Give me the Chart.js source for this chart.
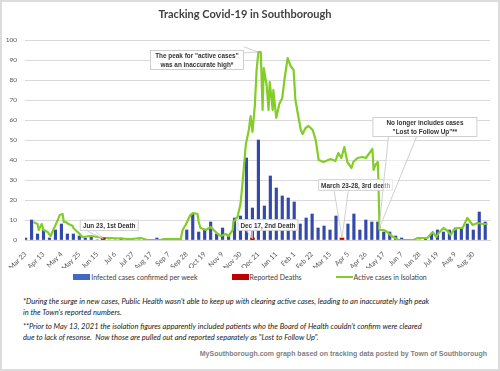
<!DOCTYPE html>
<html>
<head>
<meta charset="utf-8">
<title>Tracking Covid-19 in Southborough</title>
<script src="https://cdn.jsdelivr.net/npm/chart.js@4.4.1/dist/chart.umd.min.js"></script>
<style>
    html, body { margin: 0; padding: 0; background: #fff; }
    #page { position: relative; width: 500px; height: 371px; overflow: hidden; font-family: Lato, "Liberation Sans", sans-serif; }
    #frame { position: absolute; left: 0; top: 0; width: 500px; height: 371px; box-sizing: border-box; border: 2px solid #dcdcdc; pointer-events: none; }
    #chart-box { position: absolute; left: 0; top: 0; width: 500px; height: 270px; }
    #legend { position: absolute; left: 0; top: 272px; width: 500px; height: 10px; display: flex; justify-content: center; gap: 34px; font-size: 7px; color: #404040; }
    .lg-item { display: flex; align-items: center; white-space: nowrap; }
    .lg-swatch { width: 17px; height: 6px; margin-right: 1px; }
    .lg-line { width: 17px; height: 2px; margin-right: 1px; }
    .note { position: absolute; left: 23px; font-style: italic; font-size: 7.5px; line-height: 10.5px; color: #1a1a1a; white-space: nowrap; }
    #source { position: absolute; right: 13px; top: 350px; font-family: "Liberation Sans", Arial, sans-serif; font-weight: bold; font-size: 7px; color: #7f7f7f; white-space: nowrap; }
</style>
</head>
<body>
<div id="page">
    <div id="chart-box"><canvas id="covidChart"></canvas></div>
    <div id="legend"></div>
    <div class="note" style="top: 297px;">*During the surge in new cases, Public Health wasn't able to keep up with clearing active cases, leading to an inaccurately high peak<br>in the Town's reported numbers.</div>
    <div class="note" style="top: 322px;">**Prior to May 13, 2021 the isolation figures apparently included patients who the Board of Health couldn't confirm were cleared<br>due to lack of resonse.&nbsp; Now those are pulled out and reported separately as "Lost to Follow Up".</div>
    <div id="source">MySouthborough.com graph based on tracking data posted by Town of Southborough</div>
    <div id="frame"></div>
</div>

<script>
// x axis: weeks since Mar 23, 2020 (week 0), labelled every 3 weeks
const tickLabels = ['Mar 23', 'Apr 13', 'May 4', 'May 25', 'Jun 15', 'Jul 6', 'Jul 27', 'Aug 17', 'Sep 7', 'Sep 28',
    'Oct 19', 'Nov 9', 'Nov 30', 'Dec 21', 'Jan 11', 'Feb 1', 'Feb 22', 'Mar 15', 'Apr 5', 'Apr 26',
    'May 17', 'Jun 7', 'Jun 28', 'Jul 19', 'Aug 9', 'Aug 30'];

// new confirmed cases, one value per week (week 0 .. 77)
const weeklyCases = [
    1, 10, 3, 5, 1, 5, 8, 3, 3, 2,
    1, 2, 0, 0, 0, 0, 1, 0, 0, 0,
    0, 0, 1, 0, 0, 0, 0, 5, 13, 4,
    5, 9, 3, 6, 2, 11, 12, 41, 16, 50,
    17, 32, 26, 22, 21, 19, 8, 11, 13, 6,
    7, 5, 12, 0, 8, 13, 5, 10, 9, 9,
    4, 4, 2, 1, 0, 0, 0, 1, 3, 5,
    4, 5, 6, 6, 8, 5, 14, 9
];

// reported deaths
const deathWeeks = [13, 38, 53];
const deathCounts = [1, 1, 1];

// active cases in isolation (reported more often than weekly)
const activeWeek = [
    1.3, 2.0, 2.2, 2.7, 3.0, 3.7, 4.2, 4.7, 5.4, 5.7,
    6.2, 6.4, 6.7, 7.2, 7.9, 8.0, 8.9, 9.5, 10.9, 12.1,
    13.1, 14.2, 17.6, 19.3, 20.4, 22.6, 23.1, 26.0, 26.3, 26.8,
    27.6, 28.1, 28.8, 29.0, 29.3, 30.2, 31.0, 32.2, 32.7, 33.5,
    34.0, 34.7, 34.8, 35.5, 36.0, 36.3, 36.9, 37.4, 37.7, 38.0,
    38.4, 38.7, 39.0, 39.4, 39.7, 39.9, 40.4, 40.7, 40.9, 41.4,
    41.5, 42.0, 42.5, 43.0, 43.4, 43.9, 44.4, 44.9, 45.2, 46.1,
    46.4, 46.9, 47.4, 48.1, 48.6, 49.1, 49.9, 51.1, 51.9, 52.4,
    52.9, 53.4, 53.9, 54.6, 54.9, 55.6, 56.4, 57.0, 57.5, 58.1,
    58.3, 58.6, 59.0, 59.1, 59.3, 60.0, 60.6, 61.1, 61.6, 62.5,
    65.0, 65.7, 67.3, 68.2, 68.8, 69.2, 70.0, 70.7, 71.2, 71.7,
    72.4, 73.2, 74.0, 74.9, 75.7, 76.6, 77.4
];
const activeCases = [
    9, 8, 5, 8, 5, 4, 2, 5.5, 10, 12.5,
    13, 9, 9, 8, 7, 6, 3.5, 1.5, 2, 1.5,
    1, 1, 0.5, 1, 0, 0, 0.5, 0.5, 5, 7.5,
    12.5, 13.5, 13, 9, 6, 5, 6.5, 3, 2, 3,
    2, 5, 9, 11.5, 18, 27, 48, 55, 62, 54,
    67, 85, 94, 94, 65, 86, 77, 65, 79, 65,
    75, 61, 68, 71, 81, 91, 87, 85, 70, 55,
    53, 56, 57, 55, 50, 40, 39, 40.5, 39.5, 43.5,
    41, 46.5, 39, 36, 39, 41, 41.5, 41, 43, 45.5,
    35, 37.5, 39, 30, 5, 5, 4, 2.5, 1.5, 0,
    0, 1, 1, 4, 1.5, 3.5, 6, 4.5, 2.5, 5,
    6, 6, 11, 7.5, 8.5, 8, 8
];

// callout boxes, placed in data units (week, value); shift/wedge move the pointer base
const callouts = [
    { lines: ['Jun 23, 1st Death'], box: [14.0, 7.3], target: [13, 0.6], shift: -15, wedge: 4 },
    { lines: ['The peak for "active cases"', 'was an inaccurate high*'], box: [28.7, 90], target: [38.9, 94], shift: -4, wedge: 3, width: 94 },
    { lines: ['Dec 17, 2nd Death'], box: [40.6, 7.5], target: [38, 0.6], shift: -12, wedge: 3 },
    { lines: ['March 23-28, 3rd death'], box: [55.3, 27.5], target: [53, 1], shift: -13, wedge: 7 },
    { lines: ['No longer includes cases', '"Lost to Follow Up"**'], box: [66.9, 56.5], target: [59.2, 5.5], shift: -18, wedge: 14, width: 105 }
];

const FONT = 'Lato, "Liberation Sans", sans-serif';

const calloutPlugin = {
    id: 'callouts',
    afterDatasetsDraw(chart) {
        const { ctx, scales: { x, y } } = chart;
        ctx.save();
        ctx.font = 'bold 6.4px "Liberation Sans", Arial, sans-serif';
        callouts.forEach(c => {
            const cx = x.getPixelForValue(c.box[0]);
            const cy = y.getPixelForValue(c.box[1]);
            const tx = x.getPixelForValue(c.target[0]);
            const ty = y.getPixelForValue(c.target[1]);
            const textW = Math.max(...c.lines.map(l => ctx.measureText(l).width));
            const w = c.width || Math.round(textW + 6);
            const h = c.lines.length * 8.5 + 3;
            const left = cx - w / 2, top = cy - h / 2;

            // pointer base sits on the edge facing the target
            const dx = tx - cx, dy = ty - cy;
            let b1, b2;
            if (Math.abs(dy) * (w / 2) > Math.abs(dx) * (h / 2)) {
                const ey = dy > 0 ? top + h : top;
                const ex = cx + dx * ((h / 2) / Math.abs(dy)) + (c.shift || 0);
                b1 = [ex - c.wedge, ey];
                b2 = [ex + c.wedge, ey];
            } else {
                const ex = dx > 0 ? left + w : left;
                const ey = cy + dy * ((w / 2) / Math.abs(dx)) + (c.shift || 0);
                b1 = [ex, ey - c.wedge];
                b2 = [ex, ey + c.wedge];
            }
            ctx.beginPath();
            ctx.moveTo(b1[0], b1[1]);
            ctx.lineTo(tx, ty);
            ctx.lineTo(b2[0], b2[1]);
            ctx.fillStyle = 'rgba(255,255,255,0.55)';
            ctx.fill();
            ctx.strokeStyle = '#c4c4c4';
            ctx.lineWidth = 0.8;
            ctx.stroke();

            ctx.fillStyle = '#fff';
            ctx.fillRect(left, top, w, h);
            ctx.strokeRect(left + 0.5, top + 0.5, w - 1, h - 1);

            ctx.fillStyle = '#333';
            ctx.textAlign = 'center';
            ctx.textBaseline = 'middle';
            c.lines.forEach((l, i) => {
                ctx.fillText(l, cx, top + 2 + 8.5 * i + 4.5);
            });
        });
        ctx.restore();
    }
};

// legend is plain HTML under the chart, built from the datasets
const htmlLegend = {
    id: 'htmlLegend',
    afterUpdate(chart) {
        document.getElementById('legend').innerHTML = chart.data.datasets.map(ds => {
            const mark = ds.type === 'line'
                ? `<span class="lg-line" style="background:${ds.borderColor}"></span>`
                : `<span class="lg-swatch" style="background:${ds.legendColor || ds.backgroundColor}"></span>`;
            return `<span class="lg-item">${mark}${ds.label}</span>`;
        }).join('');
    }
};

new Chart(document.getElementById('covidChart'), {
    type: 'bar',
    data: {
        datasets: [
            {
                label: 'Infected cases confirmed per week',
                data: weeklyCases.map((v, i) => ({ x: i, y: v })),
                backgroundColor: '#3349ab',
                legendColor: '#4169c4',
                barThickness: 2.5,
                grouped: false,
                order: 2
            },
            {
                label: 'Reported Deaths',
                data: deathWeeks.map((wk, i) => ({ x: wk, y: deathCounts[i] })),
                backgroundColor: '#c00000',
                barThickness: 4,
                grouped: false,
                order: 0
            },
            {
                type: 'line',
                label: 'Active cases in Isolation',
                data: activeWeek.map((wk, i) => ({ x: wk, y: activeCases[i] })),
                borderColor: '#82cd26',
                borderWidth: 2.2,
                borderJoinStyle: 'round',
                pointRadius: 0,
                tension: 0,
                order: 1
            }
        ]
    },
    options: {
        responsive: true,
        maintainAspectRatio: false,
        animation: false,
        layout: { padding: { left: 0, right: 10, top: 0, bottom: 2 } },
        plugins: {
            legend: { display: false },
            tooltip: { enabled: false },
            title: {
                display: true,
                text: 'Tracking Covid-19 in Southborough',
                color: '#404040',
                font: { family: FONT, size: 11, weight: 'bold' },
                padding: { top: 7.5, bottom: 19.3 }
            }
        },
        scales: {
            x: {
                type: 'linear',
                min: -0.1,
                max: 77.8,
                offset: false,
                grid: { display: false },
                border: { display: true, color: '#d4d4d4' },
                afterBuildTicks: (scale) => {
                    scale.ticks = tickLabels.map((_, i) => ({ value: i * 3 }));
                },
                afterFit: (scale) => { scale.height = 28; },
                ticks: {
                    autoSkip: false,
                    minRotation: 45,
                    maxRotation: 45,
                    padding: 2,
                    color: '#595959',
                    font: { family: FONT, size: 7 },
                    callback: (value, index) => tickLabels[index]
                }
            },
            y: {
                min: 0,
                max: 100,
                grid: { color: '#d9d9d9', drawTicks: false },
                border: { display: false },
                afterFit: (scale) => { scale.width = 25; },
                ticks: {
                    stepSize: 10,
                    padding: 8,
                    color: '#595959',
                    font: { family: FONT, size: 6.5 }
                }
            }
        }
    },
    plugins: [calloutPlugin, htmlLegend]
});
</script>
</body>
</html>
